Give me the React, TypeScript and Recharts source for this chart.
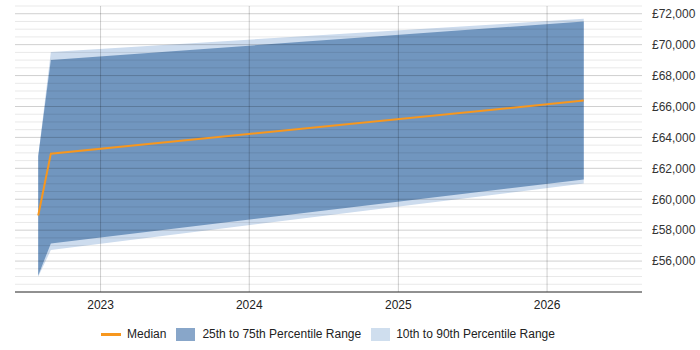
import React from 'react';
import { ComposedChart, Area, Line, XAxis, YAxis, ReferenceLine, Legend } from 'recharts';

// Observation dates and salary percentiles
const dates = ['2022-08-01', '2022-09-01', '2026-04-01'];
const median = [58950, 62950, 66380];
const p25 = [55070, 57140, 61280];
const p75 = [62780, 69000, 71500];
const p10 = [54980, 56720, 61020];
const p90 = [62800, 69530, 71670];

// Axis ticks
const yearTicks = [2023, 2024, 2025, 2026];
const yMajorTicks = [56000, 58000, 60000, 62000, 64000, 66000, 68000, 70000, 72000];
const yMinorLines = Array.from({ length: 38 }, (_, i) => 54000 + i * 500).filter(v => v % 2000 !== 0);

const toTime = (d: string) => new Date(d + 'T00:00:00Z').getTime();
const xDomain = [toTime('2022-06-05'), toTime('2026-08-22')];
const xTicks = yearTicks.map(y => Date.UTC(y, 0, 1));

const rows = dates.map((d, i) => ({
  t: toTime(d),
  outer: [p10[i], p90[i]],
  inner: [p25[i], p75[i]],
  median: median[i],
}));

const FONT = 'Arial, "Liberation Sans", sans-serif';
const fmtGBP = (v: number) => '£' + v.toLocaleString('en-GB');

const LegendContent = () => (
  <div
    style={{
      display: 'flex',
      justifyContent: 'center',
      alignItems: 'center',
      height: 24,
      paddingRight: 44,
      fontFamily: FONT,
      fontSize: 12,
      color: '#222',
    }}
  >
    <span style={{ display: 'inline-block', width: 20, height: 3, background: '#f7971e', marginRight: 6 }} />
    <span style={{ marginRight: 10 }}>Median</span>
    <span style={{ display: 'inline-block', width: 19, height: 13, background: '#88a6c9', marginRight: 7 }} />
    <span style={{ marginRight: 10 }}>25th to 75th Percentile Range</span>
    <span style={{ display: 'inline-block', width: 19, height: 13, background: '#cfdeee', marginRight: 6 }} />
    <span>10th to 90th Percentile Range</span>
  </div>
);

export default function App() {
  return (
    <div style={{ position: 'absolute', left: 0, top: 0, width: 700, height: 350 }}>
      <ComposedChart
        width={700}
        height={350}
        data={rows}
        margin={{ top: 6, right: 0, bottom: 4, left: 15 }}
      >
        <XAxis
          dataKey="t"
          type="number"
          scale="time"
          domain={xDomain}
          ticks={xTicks}
          tickFormatter={(v: number) => String(new Date(v).getUTCFullYear())}
          tickLine={false}
          axisLine={{ stroke: '#222', strokeWidth: 1 }}
          tick={{ fill: '#222', fontSize: 12, fontFamily: FONT }}
          allowDataOverflow
        />
        <YAxis
          orientation="right"
          width={58}
          domain={[54000, 72500]}
          ticks={yMajorTicks}
          tickFormatter={fmtGBP}
          tickLine={false}
          axisLine={false}
          tick={{ fill: '#333', fontSize: 12, fontFamily: FONT, dx: 2 }}
          allowDataOverflow
        />
        <Area
          dataKey="outer"
          type="linear"
          stroke="none"
          fill="#cddcee"
          fillOpacity={1}
          isAnimationActive={false}
          legendType="none"
        />
        <Area
          dataKey="inner"
          type="linear"
          stroke="none"
          fill="#7196bf"
          fillOpacity={1}
          isAnimationActive={false}
          legendType="none"
        />
        {yMinorLines.map(v => (
          <ReferenceLine key={'m' + v} y={v} stroke="rgba(0,0,0,0.09)" strokeWidth={1} />
        ))}
        {yMajorTicks.map(v => (
          <ReferenceLine key={'M' + v} y={v} stroke="rgba(0,0,0,0.19)" strokeWidth={1} />
        ))}
        {xTicks.map(v => (
          <ReferenceLine key={'x' + v} x={v} stroke="rgba(0,0,0,0.19)" strokeWidth={1} />
        ))}
        <Line
          dataKey="median"
          type="linear"
          stroke="#f7971e"
          strokeWidth={2}
          dot={false}
          isAnimationActive={false}
        />
        <Legend verticalAlign="bottom" height={24} content={<LegendContent />} wrapperStyle={{ left: 0, width: 700 }} />
      </ComposedChart>
    </div>
  );
}
